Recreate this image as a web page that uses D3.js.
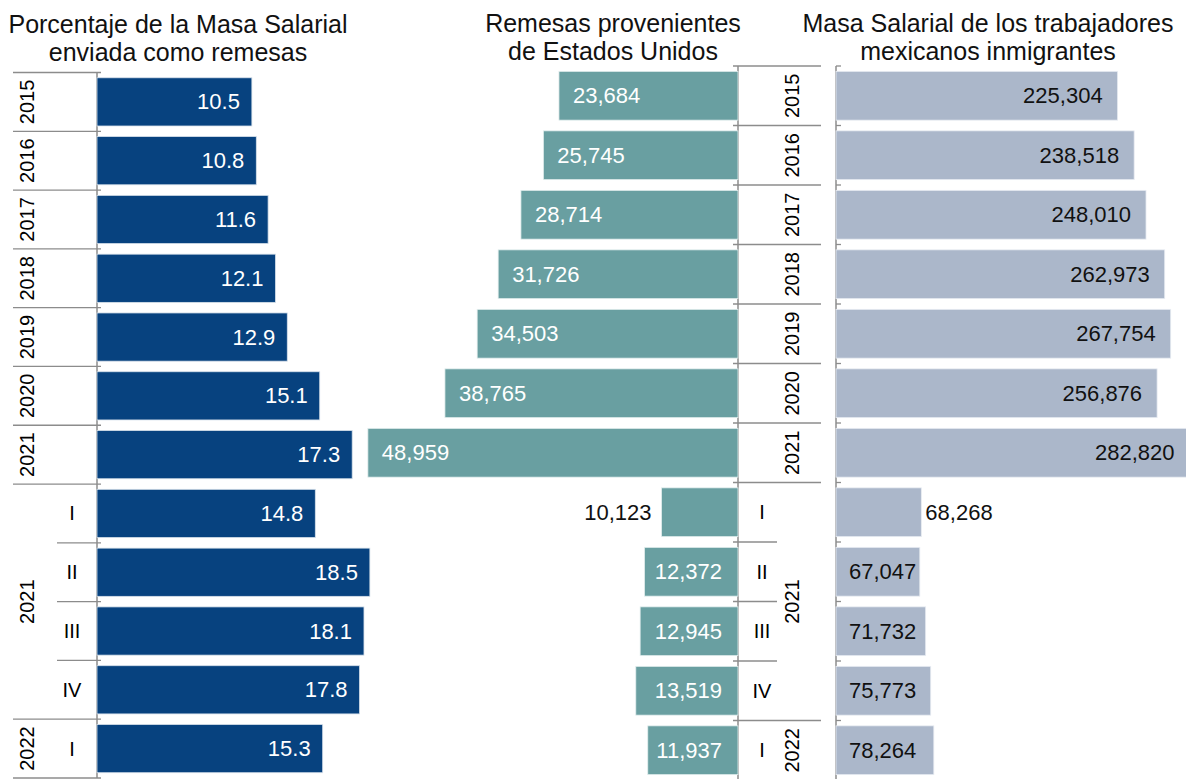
<!DOCTYPE html>
<html>
<head>
<meta charset="utf-8">
<script src="https://cdn.jsdelivr.net/npm/d3@7"></script>
<style>
  body { margin: 0; background: #fff; }
  svg { display: block; font-family: Arial, "Liberation Sans", sans-serif; }
</style>
</head>
<body>
<svg></svg>
<script>
// periodos: anuales 2015-2021, trimestrales 2021-I a 2022-I
var years = ['2015', '2016', '2017', '2018', '2019', '2020', '2021', '2021', '2021', '2021', '2021', '2022'];
var quarters = ['', '', '', '', '', '', '', 'I', 'II', 'III', 'IV', 'I'];

// porcentaje de la masa salarial enviada como remesas
var pctSent = [10.5, 10.8, 11.6, 12.1, 12.9, 15.1, 17.3, 14.8, 18.5, 18.1, 17.8, 15.3];
// remesas provenientes de Estados Unidos (millones de dolares)
var remittances = [23684, 25745, 28714, 31726, 34503, 38765, 48959, 10123, 12372, 12945, 13519, 11937];
// masa salarial de los trabajadores mexicanos inmigrantes
var wageMass = [225304, 238518, 248010, 262973, 267754, 256876, 282820, 68268, 67047, 71732, 75773, 78264];

var titles = [
  ['Porcentaje de la Masa Salarial', 'enviada como remesas'],
  ['Remesas provenientes', 'de Estados Unidos'],
  ['Masa Salarial de los trabajadores', 'mexicanos inmigrantes']
];

var width = 1186;
var height = 779;
var svg = d3.select('svg').attr('width', width).attr('height', height);

var idx = d3.range(years.length);
var isQuarter = i => quarters[i] !== '';
var groupOf = i => isQuarter(i) ? 'q' + years[i] : 'a' + i;
var fmt = d3.format(',');
var axisColor = '#8c8c8c';

var yLeft = d3.scaleBand().domain(idx).range([72.5, 778]).paddingInner(0.18).paddingOuter(0.09);
var yRight = d3.scaleBand().domain(idx).range([66, 780]).paddingInner(0.18).paddingOuter(0.09);

var xPct = d3.scaleLinear().domain([0, 20]).range([97, 392]);
var xRem = d3.scaleLinear().domain([0, 50000]).range([738, 360]);
var xWage = d3.scaleLinear().domain([0, 300000]).range([836, 1211]);

// titles
var titleX = [178, 613, 988];
var titleY = [33, 32, 32];
titles.forEach(function(lines, k) {
  svg.append('text')
      .attr('x', titleX[k])
      .attr('text-anchor', 'middle')
      .attr('font-size', 25)
      .attr('fill', '#111')
    .selectAll('tspan')
    .data(lines)
    .enter()
    .append('tspan')
      .attr('x', titleX[k])
      .attr('y', (d, j) => titleY[k] + j * 28)
      .text(d => d);
});

// groups of rows (for the two level category axis)
var groups = [];
idx.forEach(function(i) {
  var last = groups[groups.length - 1];
  if (last && last.key === groupOf(i)) last.rows.push(i);
  else groups.push({ key: groupOf(i), year: years[i], rows: [i] });
});

function boundary(y, i) {
  return y.range()[0] + i * y.step();
}
function isMajor(i) {
  return i === 0 || i === idx.length || groupOf(i) !== groupOf(i - 1);
}

// ---------- left axis ----------
var gl = svg.append('g');
d3.range(idx.length + 1).forEach(function(i) {
  var yy = boundary(yLeft, i);
  gl.append('line')
      .attr('x1', isMajor(i) ? 13 : 57).attr('x2', 101)
      .attr('y1', yy).attr('y2', yy)
      .attr('stroke', axisColor).attr('stroke-width', 1.3);
});
gl.append('line')
    .attr('x1', 97).attr('x2', 97)
    .attr('y1', boundary(yLeft, 0)).attr('y2', boundary(yLeft, idx.length))
    .attr('stroke', axisColor).attr('stroke-width', 1.5);

groups.forEach(function(g) {
  var yc = (boundary(yLeft, g.rows[0]) + boundary(yLeft, g.rows[g.rows.length - 1] + 1)) / 2;
  gl.append('text')
      .attr('transform', `translate(27, ${yc}) rotate(-90)`)
      .attr('text-anchor', 'middle')
      .attr('dominant-baseline', 'central')
      .attr('font-size', 20)
      .text(g.year);
});
idx.filter(isQuarter).forEach(function(i) {
  gl.append('text')
      .attr('x', 72).attr('y', yLeft(i) + yLeft.bandwidth() / 2)
      .attr('text-anchor', 'middle')
      .attr('dominant-baseline', 'central')
      .attr('font-size', 20)
      .text(quarters[i]);
});

// ---------- middle axis ----------
var gm = svg.append('g');
d3.range(idx.length + 1).forEach(function(i) {
  var yy = boundary(yRight, i);
  gm.append('line')
      .attr('x1', 733).attr('x2', isMajor(i) ? 821 : 777)
      .attr('y1', yy).attr('y2', yy)
      .attr('stroke', axisColor).attr('stroke-width', 1.3);
});
gm.append('line')
    .attr('x1', 738).attr('x2', 738)
    .attr('y1', boundary(yRight, 0)).attr('y2', boundary(yRight, idx.length))
    .attr('stroke', axisColor).attr('stroke-width', 1.5);

groups.forEach(function(g) {
  var yc = (boundary(yRight, g.rows[0]) + boundary(yRight, g.rows[g.rows.length - 1] + 1)) / 2;
  gm.append('text')
      .attr('transform', `translate(792, ${yc}) rotate(-90)`)
      .attr('text-anchor', 'middle')
      .attr('dominant-baseline', 'central')
      .attr('font-size', 20)
      .text(g.year);
});
idx.filter(isQuarter).forEach(function(i) {
  gm.append('text')
      .attr('x', 762).attr('y', yRight(i) + yRight.bandwidth() / 2)
      .attr('text-anchor', 'middle')
      .attr('dominant-baseline', 'central')
      .attr('font-size', 20)
      .text(quarters[i]);
});

// ---------- right axis ----------
var gr = svg.append('g');
d3.range(idx.length + 1).forEach(function(i) {
  var yy = boundary(yRight, i);
  gr.append('line')
      .attr('x1', 836).attr('x2', 841)
      .attr('y1', yy).attr('y2', yy)
      .attr('stroke', axisColor).attr('stroke-width', 1.3);
});
gr.append('line')
    .attr('x1', 836).attr('x2', 836)
    .attr('y1', boundary(yRight, 0)).attr('y2', boundary(yRight, idx.length))
    .attr('stroke', axisColor).attr('stroke-width', 1.5);

// ---------- bars ----------
// left: porcentaje
svg.append('g')
  .selectAll('rect')
  .data(pctSent)
  .enter()
  .append('rect')
    .attr('x', xPct(0))
    .attr('y', (d, i) => yLeft(i))
    .attr('width', d => xPct(d) - xPct(0))
    .attr('height', yLeft.bandwidth())
    .attr('fill', '#07427f')
    .attr('stroke', '#d6e0ea')
    .attr('stroke-width', 0.8);

svg.append('g')
  .selectAll('text')
  .data(pctSent)
  .enter()
  .append('text')
    .attr('x', d => xPct(d) - 12)
    .attr('y', (d, i) => yLeft(i) + yLeft.bandwidth() / 2)
    .attr('text-anchor', 'end')
    .attr('dominant-baseline', 'central')
    .attr('font-size', 22)
    .attr('fill', '#fff')
    .text(d => d.toFixed(1));

// middle: remesas (hacia la izquierda)
svg.append('g')
  .selectAll('rect')
  .data(remittances)
  .enter()
  .append('rect')
    .attr('x', d => xRem(d))
    .attr('y', (d, i) => yRight(i))
    .attr('width', d => xRem(0) - xRem(d))
    .attr('height', yRight.bandwidth())
    .attr('fill', '#699fa1')
    .attr('stroke', '#e4eeee')
    .attr('stroke-width', 0.8);

// the label of the first quarter (2021-I) sits outside its bar
var firstQuarter = idx.find(isQuarter);
var outside = i => i === firstQuarter;

svg.append('g')
  .selectAll('text')
  .data(remittances)
  .enter()
  .append('text')
    .attr('x', function(d, i) {
      if (outside(i)) return xRem(d) - 10;
      return isQuarter(i) ? xRem(0) - 16 : xRem(d) + 14;
    })
    .attr('y', (d, i) => yRight(i) + yRight.bandwidth() / 2)
    .attr('text-anchor', (d, i) => (isQuarter(i) ? 'end' : 'start'))
    .attr('dominant-baseline', 'central')
    .attr('font-size', 22)
    .attr('fill', (d, i) => outside(i) ? '#111' : '#fff')
    .text(d => fmt(d));

// right: masa salarial
svg.append('g')
  .selectAll('rect')
  .data(wageMass)
  .enter()
  .append('rect')
    .attr('x', xWage(0))
    .attr('y', (d, i) => yRight(i))
    .attr('width', d => xWage(d) - xWage(0))
    .attr('height', yRight.bandwidth())
    .attr('fill', '#abb7ca')
    .attr('stroke', '#e8ecf2')
    .attr('stroke-width', 0.8);

svg.append('g')
  .selectAll('text')
  .data(wageMass)
  .enter()
  .append('text')
    .attr('x', function(d, i) {
      if (outside(i)) return xWage(d) + 4;
      return isQuarter(i) ? xWage(0) + 13 : xWage(d) - 15;
    })
    .attr('y', (d, i) => yRight(i) + yRight.bandwidth() / 2)
    .attr('text-anchor', (d, i) => (isQuarter(i) ? 'start' : 'end'))
    .attr('dominant-baseline', 'central')
    .attr('font-size', 22)
    .attr('fill', '#111')
    .text(d => fmt(d));
</script>
</body>
</html>
